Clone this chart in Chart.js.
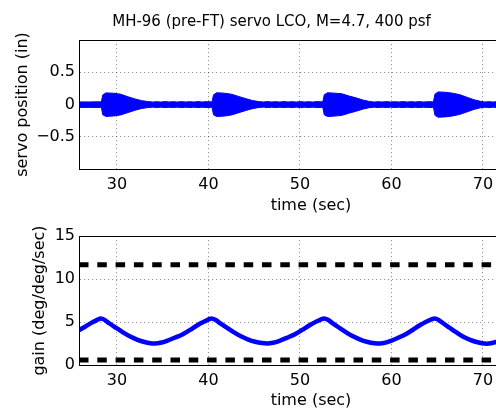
<!DOCTYPE html>
<html><head><meta charset="utf-8">
<script src="https://cdn.jsdelivr.net/npm/chart.js@4/dist/chart.umd.min.js"></script>
<style>
html,body{margin:0;padding:0;background:#fff;overflow:hidden;width:496px;height:409px;position:relative}
canvas{position:absolute;left:0}
#c1{top:0}
#c2{top:212px}
</style></head><body>
<canvas id="c1" width="543" height="215"></canvas>
<canvas id="c2" width="543" height="198"></canvas>
<script>
// ---------- data ----------
const TITLE = 'MH-96 (pre-FT) servo LCO, M=4.7, 400 psf';
const X_MIN = 25.85, X_MAX = 76.56;
const xTicks = [30, 40, 50, 60, 70];
const xTickLabels = ['30', '40', '50', '60', '70'];
const servoTicks = [-0.5, 0, 0.5];
const servoTickLabels = ['\u22120.5', '0', '0.5'];
const gainTicks = [0, 5, 10, 15];
const gainTickLabels = ['0', '5', '10', '15'];

// servo position envelope (upper / lower edge of the oscillation band)
const servoTime = [
  25.85, 27.0, 28.2,
  28.3, 28.45, 28.8, 29.6, 30.4, 31.2, 32.0, 32.7, 33.4,
  33.9, 34.35, 34.8, 35.25, 35.7, 36.15, 36.6, 37.05, 37.5, 37.95, 38.4, 38.85, 39.3, 39.75, 40.3,
  40.4, 40.55, 40.9, 41.7, 42.5, 43.3, 44.1, 44.8, 45.5,
  46.0, 46.45, 46.9, 47.35, 47.8, 48.25, 48.7, 49.15, 49.6, 50.05, 50.5, 50.95, 51.4, 51.85, 52.4,
  52.5, 52.65, 53.0, 53.8, 54.6, 55.4, 56.2, 56.9, 57.6,
  58.1, 58.55, 59.0, 59.45, 59.9, 60.35, 60.8, 61.25, 61.7, 62.15, 62.6, 63.05, 63.5, 63.95, 64.5,
  64.6, 64.75, 65.1, 65.9, 66.7, 67.5, 68.3, 69.0, 69.7,
  70.2, 70.65, 71.1, 71.55, 72.0
];
const servoUpper = [
  0.04, 0.04, 0.042,
  0.045, 0.15, 0.18, 0.175, 0.16, 0.12, 0.085, 0.06, 0.045,
  0.038, 0.044, 0.038, 0.045, 0.039, 0.044, 0.038, 0.045, 0.039, 0.044, 0.038, 0.045, 0.039, 0.044, 0.041,
  0.045, 0.15, 0.182, 0.176, 0.16, 0.125, 0.09, 0.062, 0.045,
  0.038, 0.045, 0.039, 0.044, 0.038, 0.045, 0.039, 0.044, 0.038, 0.045, 0.039, 0.044, 0.038, 0.045, 0.041,
  0.045, 0.15, 0.182, 0.176, 0.165, 0.13, 0.1, 0.068, 0.047,
  0.038, 0.044, 0.039, 0.045, 0.038, 0.044, 0.039, 0.045, 0.038, 0.044, 0.039, 0.045, 0.038, 0.044, 0.042,
  0.05, 0.16, 0.195, 0.19, 0.175, 0.15, 0.11, 0.075, 0.05,
  0.039, 0.044, 0.038, 0.044, 0.041
];
const servoLower = [
  -0.045, -0.045, -0.046,
  -0.048, -0.16, -0.185, -0.178, -0.162, -0.125, -0.088, -0.062, -0.047,
  -0.041, -0.047, -0.041, -0.048, -0.042, -0.047, -0.041, -0.048, -0.042, -0.047, -0.041, -0.048, -0.042, -0.047, -0.044,
  -0.048, -0.16, -0.186, -0.18, -0.163, -0.128, -0.092, -0.064, -0.047,
  -0.041, -0.048, -0.042, -0.047, -0.041, -0.048, -0.042, -0.047, -0.041, -0.048, -0.042, -0.047, -0.041, -0.048, -0.044,
  -0.048, -0.16, -0.186, -0.18, -0.168, -0.133, -0.102, -0.07, -0.049,
  -0.041, -0.047, -0.042, -0.048, -0.041, -0.047, -0.042, -0.048, -0.041, -0.047, -0.042, -0.048, -0.041, -0.047, -0.045,
  -0.052, -0.168, -0.197, -0.192, -0.177, -0.152, -0.112, -0.077, -0.052,
  -0.042, -0.047, -0.041, -0.047, -0.044
];

// adaptive gain
const gainTime = [
  25.85, 26.5, 27.2, 27.8, 28.25,
  28.65, 29.15, 29.85, 30.65, 31.45, 32.25, 33.0, 33.65, 34.15,
  34.75, 35.55, 36.35, 37.15, 37.95, 38.75, 39.55, 40.35,
  40.75, 41.25, 41.95, 42.75, 43.55, 44.35, 45.1, 45.85, 46.45,
  47.05, 47.85, 48.65, 49.45, 50.25, 51.05, 51.85, 52.65,
  53.05, 53.55, 54.25, 55.05, 55.85, 56.65, 57.4, 58.15, 58.75,
  59.35, 60.1, 60.85, 61.6, 62.35, 63.1, 63.9, 64.75,
  65.15, 65.65, 66.35, 67.1, 67.85, 68.6, 69.3, 69.9, 70.4,
  71.0, 71.8, 72.6
];
const gainValue = [
  4.05, 4.45, 4.9, 5.22, 5.4,
  5.25, 4.85, 4.35, 3.8, 3.3, 2.93, 2.68, 2.54, 2.5,
  2.58, 2.85, 3.2, 3.55, 4.05, 4.6, 5.05, 5.4,
  5.25, 4.88, 4.38, 3.82, 3.33, 2.95, 2.7, 2.55, 2.5,
  2.58, 2.85, 3.2, 3.58, 4.08, 4.62, 5.08, 5.4,
  5.25, 4.87, 4.36, 3.8, 3.3, 2.93, 2.68, 2.54, 2.5,
  2.6, 2.88, 3.22, 3.6, 4.1, 4.62, 5.08, 5.4,
  5.24, 4.85, 4.33, 3.78, 3.28, 2.92, 2.67, 2.52, 2.48,
  2.56, 2.83, 3.2
];
const limitTime = [25.85, 76.56];
const gainUpperLimit = [11.65, 11.65];
const gainLowerLimit = [0.58, 0.58];

// ---------- styling ----------
const BLUE = '#0000ff';
const GRID = 'rgba(0,0,0,0.42)';
Chart.defaults.font.family = "'DejaVu Sans', sans-serif";
Chart.defaults.color = '#000';

const pts = (xs, ys) => xs.map((x, i) => ({x: x, y: ys[i]}));

const boxPlugin = {
  id: 'box',
  afterDraw(chart) {
    const {ctx, chartArea: a} = chart;
    ctx.save();
    ctx.strokeStyle = '#000';
    ctx.lineWidth = 1;
    ctx.setLineDash([]);
    ctx.strokeRect(Math.round(a.left) + 0.5, Math.round(a.top) + 0.5,
                   Math.round(a.right - a.left), Math.round(a.bottom - a.top));
    ctx.restore();
  }
};

function xScale(h) {
  return {
    type: 'linear', min: X_MIN, max: X_MAX,
    afterBuildTicks: s => { s.ticks = xTicks.map(v => ({value: v})); },
    afterFit: s => { s.height = h; },
    grid: {color: GRID, drawTicks: false, lineWidth: 1},
    border: {display: true, color: '#000', dash: [1.2, 2.8]},
    ticks: {padding: 6, font: {size: 16}, maxRotation: 0, autoSkip: false,
            callback: (v, i) => xTickLabels[i]},
    title: {display: true, text: 'time (sec)', font: {size: 16}, padding: {top: 0, bottom: 0}}
  };
}

function yScale(min, max, ticks, labels, title, titlePad) {
  return {
    type: 'linear', min: min, max: max,
    afterBuildTicks: s => { s.ticks = ticks.map(v => ({value: v})); },
    afterFit: s => { s.width = 79; },
    grid: {color: GRID, drawTicks: false, lineWidth: 1},
    border: {display: true, color: '#000', dash: [1.2, 2.8]},
    ticks: {padding: 4, font: {size: 16}, autoSkip: false,
            callback: (v, i) => labels[i]},
    title: {display: true, text: title, font: {size: 16}, padding: {top: titlePad, bottom: 0}}
  };
}

// ---------- top chart: servo position ----------
new Chart(document.getElementById('c1'), {
  type: 'line',
  data: {
    datasets: [
      {data: pts(servoTime, servoUpper), borderColor: BLUE, backgroundColor: BLUE,
       borderWidth: 1, pointRadius: 0, fill: '+1', tension: 0},
      {data: pts(servoTime, servoLower), borderColor: BLUE, backgroundColor: BLUE,
       borderWidth: 1, pointRadius: 0, fill: false, tension: 0}
    ]
  },
  options: {
    responsive: false, animation: false,
    layout: {padding: 0},
    plugins: {
      legend: {display: false}, tooltip: {enabled: false},
      title: {display: true, text: TITLE, color: '#000',
              font: {size: 15, weight: 'normal'}, padding: {top: 13, bottom: 9}}
    },
    scales: {
      x: xScale(46),
      y: yScale(-1, 1, servoTicks, servoTickLabels, 'servo position (in)', 13.5)
    }
  },
  plugins: [boxPlugin]
});

// ---------- bottom chart: gain ----------
new Chart(document.getElementById('c2'), {
  type: 'line',
  data: {
    datasets: [
      {data: pts(gainTime, gainValue), borderColor: BLUE, borderWidth: 4.5,
       pointRadius: 0, fill: false, cubicInterpolationMode: 'monotone'},
      {data: pts(limitTime, gainUpperLimit), borderColor: '#000', borderWidth: 5,
       borderDash: [9.5, 8.8], borderCapStyle: 'butt', pointRadius: 0, fill: false},
      {data: pts(limitTime, gainLowerLimit), borderColor: '#000', borderWidth: 5,
       borderDash: [9.5, 8.8], borderCapStyle: 'butt', pointRadius: 0, fill: false}
    ]
  },
  options: {
    responsive: false, animation: false,
    layout: {padding: {top: 24, left: 0, right: 0, bottom: 0}},
    plugins: {legend: {display: false}, tooltip: {enabled: false}, title: {display: false}},
    scales: {
      x: xScale(45),
      y: yScale(0, 15, gainTicks, gainTickLabels, 'gain (deg/deg/sec)', 30.5)
    }
  },
  plugins: [boxPlugin]
});
</script>
</body></html>
